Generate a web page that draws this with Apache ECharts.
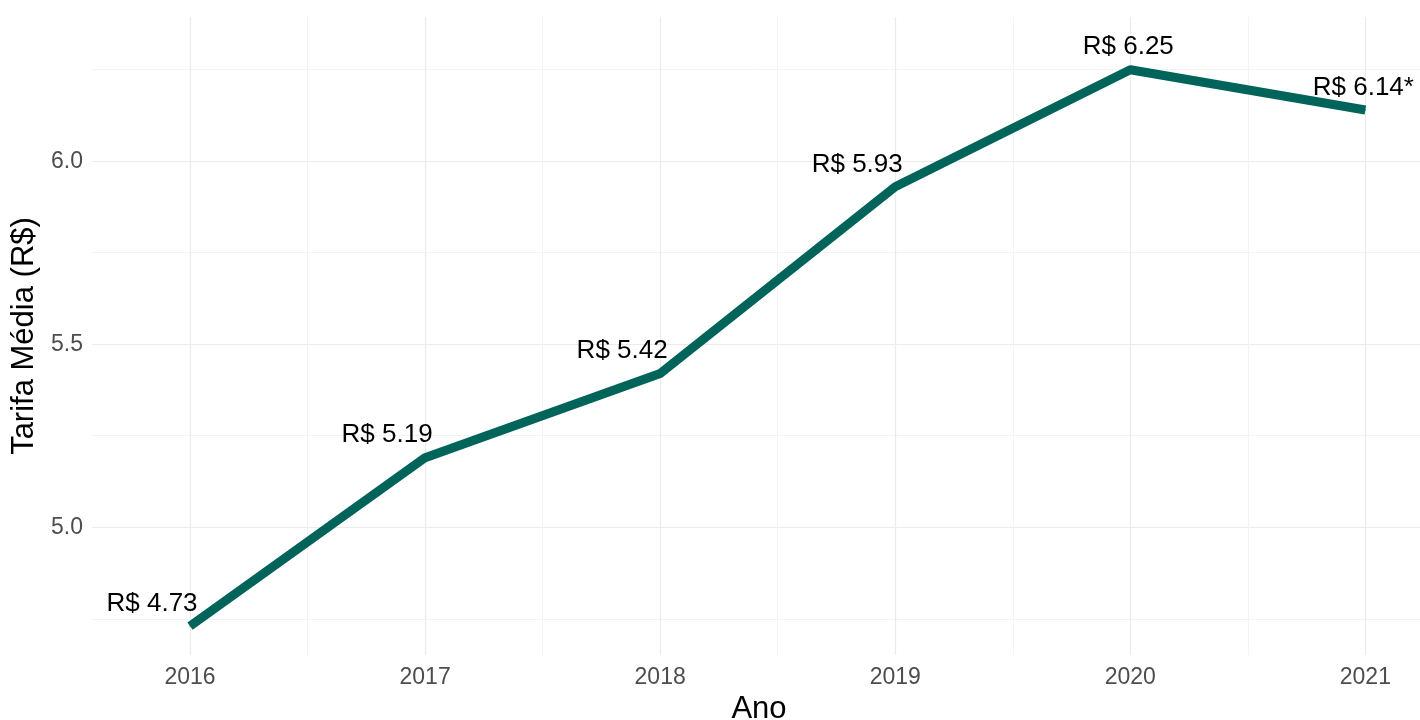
<!DOCTYPE html>
<html>
<head>
<meta charset="utf-8">
<title>Tarifa Média</title>
<script src="https://cdn.jsdelivr.net/npm/echarts@6/dist/echarts.min.js"></script>
<style>
    html, body { margin: 0; padding: 0; background: #fff; }
    #chart { width: 1420px; height: 720px; }
</style>
</head>
<body>
<div id="chart"></div>
<script>
// dados
const anos = [2016, 2017, 2018, 2019, 2020, 2021];
const tarifas = [4.73, 5.19, 5.42, 5.93, 6.25, 6.14];
const notas = ['', '', '', '', '', '*'];
// marcas dos eixos
const xTicks = [2016, 2017, 2018, 2019, 2020, 2021];
const xMinor = [2016.5, 2017.5, 2018.5, 2019.5, 2020.5];
const yTicks = [5.0, 5.5, 6.0];
const yMinor = [4.75, 5.25, 5.75, 6.25];

const FONT = '"Liberation Sans", Arial, sans-serif';
const gridMajor = { show: true, lineStyle: { color: '#ebebeb', width: 1.2 } };
const gridMinor = { show: true, lineStyle: { color: '#f2f2f2', width: 0.9 } };

let chart = echarts.init(document.getElementById('chart'));
drawChart(chart);

function drawChart(chart) {
    const xRange = { min: 2015.583, max: 2021.258 };
    const yRange = { min: 4.651, max: 6.394 };

    let option = {
        backgroundColor: '#fff',
        animation: false,
        grid: { left: 92, top: 17, width: 1334, height: 638, outerBoundsMode: 'none', containLabel: false },
        xAxis: [{
            type: 'value',
            min: xRange.min, max: xRange.max,
            name: 'Ano',
            nameLocation: 'middle',
            nameGap: 34,
            nameTextStyle: { fontFamily: FONT, fontSize: 31, color: '#000' },
            axisLine: { show: false },
            axisTick: { show: false, customValues: xTicks },
            axisLabel: {
                customValues: xTicks,
                formatter: v => String(v),
                fontFamily: FONT, fontSize: 23, color: '#4d4d4d', margin: 11
            },
            splitLine: gridMajor
        }, {
            type: 'value',
            min: xRange.min, max: xRange.max,
            axisLine: { show: false },
            axisTick: { show: false, customValues: xMinor },
            axisLabel: { show: false },
            splitLine: gridMinor
        }],
        yAxis: [{
            type: 'value',
            min: yRange.min, max: yRange.max,
            name: 'Tarifa Média (R$)',
            nameLocation: 'middle',
            nameGap: 48,
            nameTextStyle: { fontFamily: FONT, fontSize: 31, color: '#000' },
            axisLine: { show: false },
            axisTick: { show: false, customValues: yTicks },
            axisLabel: {
                customValues: yTicks,
                formatter: v => v.toFixed(1),
                fontFamily: FONT, fontSize: 23, color: '#4d4d4d', margin: 9
            },
            splitLine: gridMajor
        }, {
            type: 'value',
            min: yRange.min, max: yRange.max,
            axisLine: { show: false },
            axisTick: { show: false, customValues: yMinor },
            axisLabel: { show: false },
            splitLine: gridMinor
        }],
        series: [{
            type: 'line',
            xAxisIndex: 0,
            yAxisIndex: 0,
            data: anos.map((a, i) => ({
                value: [a, tarifas[i]],
                label: { offset: [i < 4 ? -38 : -2, 0] }
            })),
            showSymbol: true,
            symbol: 'circle',
            symbolSize: 1,
            itemStyle: { color: '#00645a' },
            lineStyle: { color: '#00645a', width: 9, cap: 'butt', join: 'round' },
            label: {
                show: true,
                position: 'top',
                distance: 9,
                fontFamily: FONT,
                fontSize: 26,
                color: '#000',
                formatter: p => 'R$ ' + tarifas[p.dataIndex].toFixed(2) + notas[p.dataIndex]
            },
            emphasis: { disabled: true },
            z: 5
        }]
    };
    chart.setOption(option);
}
</script>
</body>
</html>
